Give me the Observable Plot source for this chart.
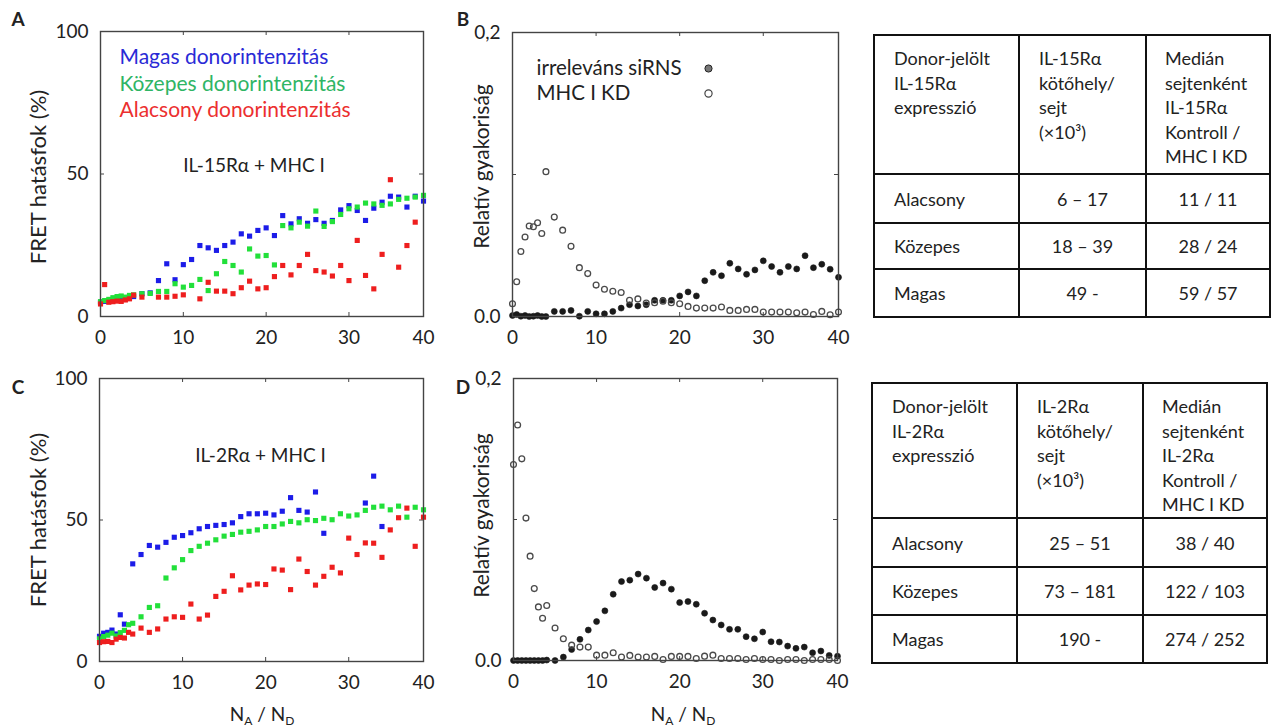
<!DOCTYPE html>
<html><head><meta charset="utf-8">
<script src="https://cdn.jsdelivr.net/npm/d3@7"></script>
<script src="https://cdn.jsdelivr.net/npm/@observablehq/plot@0.6"></script>
<style>
html,body{margin:0;padding:0;background:#fff;}
#root{position:relative;width:1271px;height:727px;overflow:hidden;font-family:Lato,"Open Sans",sans-serif;color:#222;}
.panel{position:absolute;}
.letter{position:absolute;font-weight:bold;font-size:19px;line-height:1;transform:translate(-50%,-50%);}
.xt{position:absolute;font-size:19px;transform:translate(-50%,-50%);white-space:nowrap;line-height:1;}
.xt sub{font-size:12px;vertical-align:-4px;}
table{position:absolute;border-collapse:collapse;table-layout:fixed;font-size:18px;color:#222;font-family:Lato,"Open Sans",sans-serif;}
td{border:2px solid #111;padding:0;}
td.h{vertical-align:top;padding:10px 4px 0 19px;line-height:24.5px;}
td.h2{padding-left:18px;}
td.n{padding-left:19px;}
td.c{text-align:center;}
</style></head><body><div id="root"></div>
<script>
const FONT = "Lato, 'Open Sans', sans-serif";

// shared x grid (N_A / N_D bins)
const xs = [0,0.5,1,1.5,2,2.5,3,3.5,4,5,6,7,8,9,10,11,12,13,14,15,16,17,18,19,20,21,22,23,24,25,26,27,28,29,30,31,32,33,34,35,36,37,38,39];
const xTickValues = [0,10,20,30,39];
const xTickLabels = ["0","10","20","30","40"];
const xInnerTicks = [10,20,30];
const fretTickValues = [0,50,100];
const fretTickLabels = ["0","50","100"];
const fretInnerTicks = [50];
const freqTickValues = [0,0.1,0.2];
const freqTickLabels = ["0.0","","0,2"];
const freqInnerTicks = [0.1];

const fretTitle = "FRET hatásfok (%)";
const freqTitle = "Relatív gyakoriság";
const xTitleMain = ["N","A"," / N","D"];

// Panel A: IL-15Rα + MHC I
const aBlue  = [5.0,5.3,5.6,6.0,6.3,6.5,6.2,6.8,7.0, 8.0,8.3,12.6,18.5,12.9,18.2,20.0,24.9,24.1,23.2, 24.9,26.1,29.0,28.2,30.2,31.1,28.4,35.4,32.5,34.3, 32.7,34.0,32.7,33.7,37.4,38.9,37.2,33.7,38.0,40.1, 42.2,41.9,38.4,42.2,40.5];
const aGreen = [5.2,5.6,6.0,6.6,7.0,7.2,6.8,7.4,7.6, 8.0,8.1,8.8,8.8,11.5,10.3,10.9,13.0,9.1,15.0, 19.3,17.9,15.6,23.7,21.2,21.4,18.1,31.9,31.1,33.1, 31.7,37.0,31.6,33.3,35.8,37.8,38.4,39.8,39.5,39.0, 39.5,41.1,41.5,41.9,42.5];
const aRed   = [4.4,11.2,5.0,5.2,5.4,5.3,5.8,6.2,7.5, 6.8,null,6.8,6.8,7.1,7.6,null,6.2,12.0,8.9, 8.9,8.0,10.1,12.4,9.7,10.1,14.0,17.9,14.6,17.9, 21.8,16.1,15.6,14.2,17.9,12.6,26.7,14.4,9.7,21.8, 48.0,17.3,24.9,33.1,null];
const aTitle = "IL-15Rα + MHC I";

// Panel C: IL-2Rα + MHC I
const cBlue  = [8.9,10.0,10.3,11.1,9.7,16.5,13.2,null,34.5, 37.8,41.0,40.4,42.1,43.9,44.5,45.5,46.9,47.7,48.1, 48.4,49.0,51.2,52.2,52.2,52.4,51.8,53.1,57.9,53.4, 52.8,59.9,45.3,null,null,null,null,56.0,65.5,47.7, null,null,null,null,null];
const cGreen = [8.0,8.8,9.3,10.0,9.0,10.2,11.0,13.0,13.5, 15.8,19.1,19.7,29.5,33.1,36.0,39.2,40.7,41.8,43.0, 44.3,44.9,45.7,46.0,46.5,47.7,47.7,48.6,49.5,49.0, 50.1,49.8,50.6,50.1,52.2,51.4,51.8,53.4,54.5,54.9, 53.6,54.9,51.0,54.5,53.6];
const cRed   = [6.7,7.0,7.1,6.7,7.9,8.5,8.3,10.3,9.7, 11.8,10.3,11.5,15.0,15.8,15.6,20.3,15.0,16.4,23.0, 24.8,30.3,25.3,27.0,27.4,27.2,32.7,32.3,25.4,36.2, 31.8,27.0,30.1,33.3,31.3,43.6,37.8,41.9,41.8,36.8, 46.5,50.8,54.2,40.7,51.0];
const cTitle = "IL-2Rα + MHC I";

const intensityNames = ["Magas donorintenzitás","Közepes donorintenzitás","Alacsony donorintenzitás"];
const intensityText = ["#2a2ad6","#2fb565","#ec2f2f"];
const pointColors = {blue:"#1c1ce8", green:"#22e03a", red:"#ee1e1e"};

// Panel B: IL-15Rα
const bIrr = [0.0007,0.0014,0.0002,0.0007,0.0,0.0002,0.0007,0.0,0.0, 0.0036,0.0036,0.0043,0.0002,0.0036,0.0019,0.0019,0.0036,0.0059,0.0083, 0.0074,0.0083,0.0114,0.0114,0.0114,0.0145,0.0173,0.0145,0.0252,0.0311, 0.0287,0.0375,0.0335,0.0297,0.0328,0.0392,0.0352,0.0311,0.0352,0.0335, 0.0428,0.0344,0.0368,0.0333,0.0276];
const bKD  = [0.009,0.0245,0.0458,0.056,0.0637,0.0632,0.066,0.0584,0.102, 0.070,0.0608,0.0494,0.0344,0.0302,0.0221,0.0192,0.0178,0.0169,0.0114, 0.0124,0.0095,0.0097,0.0107,0.0097,0.009,0.0071,0.0059,0.0059,0.0059, 0.0067,0.0043,0.0043,0.005,0.005,0.0031,0.0031,0.0031,0.0031,0.0026, 0.0031,0.0014,0.0036,0.0012,0.0031];
// Panel D: IL-2Rα
const dIrr = [0,0,0,0,0,0,0,0,0.0003, 0.0,0.0024,0.0078,0.015,0.0216,0.0276,0.0352,0.047,0.056,0.057, 0.0613,0.0584,0.0518,0.0549,0.0506,0.0411,0.0418,0.0399,0.0335,0.0287, 0.0252,0.0221,0.0221,0.0169,0.0154,0.0202,0.0133,0.0131,0.0102,0.0086, 0.0095,0.0055,0.0067,0.0036,0.0031];
const dKD  = [0.139,0.167,0.143,0.101,0.074,0.051,0.038,0.030,0.039, 0.023,0.0154,0.0109,0.0095,0.0095,0.0038,0.0038,0.0055,0.0024,0.0036, 0.0024,0.0024,0.0029,0.0007,0.0029,0.0029,0.0029,0.0014,0.0031,0.0038, 0.0014,0.0014,0.0014,0.0007,0.0014,0.0007,0.0007,0.0,0.0007,0.0007, 0.0,0.0007,0.0007,0.0007,0.0];
const freqLegend = ["irreleváns siRNS","MHC I KD"];

// Tables
const t1Header = [["Donor-jelölt","IL-15Rα","expresszió"],["IL-15Rα","kötőhely/","sejt","(×10³)"],["Medián","sejtenként","IL-15Rα","Kontroll /","MHC I KD"]];
const t1Rows = [["Alacsony","6 – 17","11 / 11"],["Közepes","18 – 39","28 / 24"],["Magas","49 -","59 / 57"]];
const t2Header = [["Donor-jelölt","IL-2Rα","expresszió"],["IL-2Rα","kötőhely/","sejt","(×10³)"],["Medián","sejtenként","IL-2Rα","Kontroll /","MHC I KD"]];
const t2Rows = [["Alacsony","25 – 51","38 / 40"],["Közepes","73 – 181","122 / 103"],["Magas","190 -","274 / 252"]];

const panelLetters = ["A","B","C","D"];

const root = document.getElementById("root");
const rows = ys => xs.map((x,i)=>({x, y: ys[i]})).filter(d => d.y != null);

function panel({left, top, width, height, mt, mr, mb, ml, yDomain, yTicks, yLabels, yInner, yTitle, yTitleDx, yTitleDy, yTitleSize, marks}) {
  const innerW = width - ml - mr, innerH = height - mt - mb;
  const xFmt = new Map(xTickValues.map((v,i)=>[v, xTickLabels[i]]));
  const yFmt = new Map(yTicks.map((v,i)=>[v, yLabels[i]]));
  const tk = 4, ax = "#444";
  const svg = Plot.plot({
    width, height, marginTop: mt, marginRight: mr, marginBottom: mb, marginLeft: ml,
    x: {domain: [0,39], label: null},
    y: {domain: yDomain, label: null},
    style: {fontFamily: FONT, fontSize: "19px", color: "#222", background: "none", overflow: "visible"},
    marks: [
      Plot.ruleX(xInnerTicks, {insetTop: innerH - tk, stroke: ax}),
      Plot.ruleX(xInnerTicks, {insetBottom: innerH - tk, stroke: ax}),
      Plot.ruleY(yInner, {insetRight: innerW - tk, stroke: ax}),
      Plot.ruleY(yInner, {insetLeft: innerW - tk, stroke: ax}),
      Plot.axisX({ticks: xTickValues, tickFormat: d => xFmt.get(d), tickSize: 0, tickPadding: 14, label: null}),
      Plot.axisY({ticks: yTicks, tickFormat: d => yFmt.get(d), tickSize: 0, tickPadding: 12, label: null}),
      Plot.text([yTitle], {frameAnchor: "left", textAnchor: "middle", lineAnchor: "middle", rotate: -90, dx: yTitleDx, dy: yTitleDy, fontSize: yTitleSize, text: d => d}),
      ...marks,
      Plot.frame({stroke: ax, strokeWidth: 1.4})
    ]
  });
  const div = document.createElement("div");
  div.className = "panel";
  div.style.left = left + "px"; div.style.top = top + "px";
  div.appendChild(svg);
  root.appendChild(div);
}

function fretMarks(blue, green, red, title, titleDx, titleDy, withLegend) {
  const sq = (ys, c) => Plot.dot(rows(ys), {x: "x", y: "y", symbol: "square", r: 2.9, fill: c});
  const m = [sq(blue, pointColors.blue), sq(green, pointColors.green), sq(red, pointColors.red),
    Plot.text([title], {frameAnchor: "top", dx: titleDx, dy: titleDy, lineAnchor: "middle", text: d => d, fill: "#222"})];
  if (withLegend) intensityNames.forEach((n, i) => m.push(
    Plot.text([n], {frameAnchor: "top-left", textAnchor: "start", lineAnchor: "middle", dx: 19, dy: 26 + i * 26.5, fontSize: 21, text: d => d, fill: intensityText[i]})));
  return m;
}

function freqMarks(irr, kd, withLegend) {
  const m = [
    Plot.dot(rows(irr), {x: "x", y: "y", r: 3, fill: "#1a1a1a", stroke: "#1a1a1a", strokeWidth: 0.6}),
    Plot.dot(rows(kd), {x: "x", y: "y", r: 2.9, fill: "none", stroke: "#4a4a4a", strokeWidth: 1.3})
  ];
  if (withLegend) {
    freqLegend.forEach((n, i) => m.push(
      Plot.text([n], {frameAnchor: "top-left", textAnchor: "start", lineAnchor: "middle", dx: 24, dy: 36 + i * 25, fontSize: 20.5, text: d => d, fill: "#222"})));
    m.push(Plot.dot([freqLegend[0]], {frameAnchor: "top-left", dx: 196, dy: 36, r: 3.6, fill: "#777", stroke: "#222", strokeWidth: 1}));
    m.push(Plot.dot([freqLegend[1]], {frameAnchor: "top-left", dx: 196, dy: 61, r: 3.6, fill: "none", stroke: "#444", strokeWidth: 1.2}));
  }
  return m;
}

// A
panel({left: 0, top: 0, width: 440, height: 360, mt: 31, mr: 17, mb: 44, ml: 100,
  yDomain: [0,100], yTicks: fretTickValues, yLabels: fretTickLabels, yInner: fretInnerTicks,
  yTitle: fretTitle, yTitleDx: -62, yTitleDy: 3, yTitleSize: 22, marks: fretMarks(aBlue, aGreen, aRed, aTitle, -8, 134, true)});
// B
panel({left: 440, top: 0, width: 420, height: 360, mt: 32, mr: 22, mb: 44, ml: 72,
  yDomain: [0,0.2], yTicks: freqTickValues, yLabels: freqTickLabels, yInner: freqInnerTicks,
  yTitle: freqTitle, yTitleDx: -30, yTitleDy: -8, yTitleSize: 21, marks: freqMarks(bIrr, bKD, true)});
// C
panel({left: 0, top: 350, width: 440, height: 377, mt: 28, mr: 17, mb: 66, ml: 99,
  yDomain: [0,100], yTicks: fretTickValues, yLabels: fretTickLabels, yInner: fretInnerTicks,
  yTitle: fretTitle, yTitleDx: -61, yTitleDy: 0, yTitleSize: 22, marks: fretMarks(cBlue, cGreen, cRed, cTitle, -1, 77, false)});
// D
panel({left: 440, top: 350, width: 420, height: 377, mt: 28, mr: 23, mb: 67, ml: 73,
  yDomain: [0,0.2], yTicks: freqTickValues, yLabels: freqTickLabels, yInner: freqInnerTicks,
  yTitle: freqTitle, yTitleDx: -31, yTitleDy: -4, yTitleSize: 21, marks: freqMarks(dIrr, dKD, false)});

// panel letters
[[18,18],[463,18],[18,386],[463,386]].forEach(([x,y],i) => {
  const d = document.createElement("div"); d.className = "letter";
  d.style.left = x + "px"; d.style.top = y + "px"; d.textContent = panelLetters[i]; root.appendChild(d);
});
// x titles
[[262,715],[683,715]].forEach(([x,y]) => {
  const d = document.createElement("div"); d.className = "xt";
  d.style.left = x + "px"; d.style.top = y + "px";
  d.innerHTML = `${xTitleMain[0]}<sub>${xTitleMain[1]}</sub>${xTitleMain[2]}<sub>${xTitleMain[3]}</sub>`;
  root.appendChild(d);
});

function table(left, top, cols, heights, header, body) {
  const t = document.createElement("table");
  t.style.left = left + "px"; t.style.top = top + "px";
  t.style.width = cols.reduce((a,b)=>a+b,0) + "px";
  const cg = document.createElement("colgroup");
  cols.forEach(w => { const c = document.createElement("col"); c.style.width = w + "px"; cg.appendChild(c); });
  t.appendChild(cg);
  const hr = document.createElement("tr"); hr.style.height = heights[0] + "px";
  header.forEach((lines, j) => { const td = document.createElement("td"); td.className = "h" + (j === 2 ? " h2" : ""); td.innerHTML = lines.join("<br>"); hr.appendChild(td); });
  t.appendChild(hr);
  body.forEach((r, i) => {
    const tr = document.createElement("tr"); tr.style.height = heights[i+1] + "px";
    r.forEach((v, j) => { const td = document.createElement("td"); td.className = j === 0 ? "n" : "c"; td.textContent = v; tr.appendChild(td); });
    t.appendChild(tr);
  });
  root.appendChild(t);
}
table(873, 34, [145,127,124], [139,49,46,48], t1Header, t1Rows);
table(871, 382, [145,126,124], [135,49,48,48], t2Header, t2Rows);
</script></body></html>
